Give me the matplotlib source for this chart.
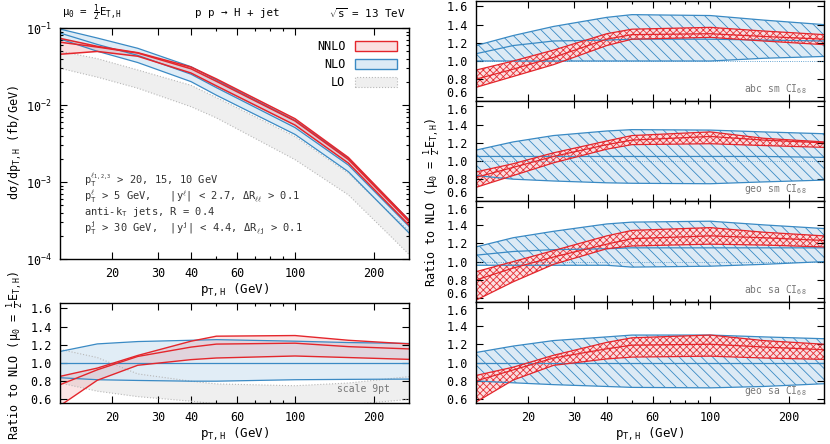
import matplotlib
matplotlib.use('Agg')
import matplotlib.pyplot as plt
from matplotlib.ticker import FixedLocator, NullFormatter, FuncFormatter, LogLocator
from matplotlib.patches import Patch

plt.rcParams['font.family'] = ['DejaVu Sans Mono', 'DejaVu Sans']
plt.rcParams['mathtext.fontset'] = 'custom'
plt.rcParams['mathtext.rm'] = 'DejaVu Sans Mono'
plt.rcParams['mathtext.it'] = 'DejaVu Sans Mono'
plt.rcParams['mathtext.bf'] = 'DejaVu Sans Mono:bold'
plt.rcParams['mathtext.sf'] = 'DejaVu Sans Mono'
plt.rcParams['hatch.linewidth'] = 0.6

# ---------------- data ----------------
pt = [12.6, 17.5, 25, 40, 50, 100, 160, 273]

# main panel: d sigma / d pT (fb/GeV)
nlo_c = [0.086, 0.0612, 0.0441, 0.0251, 0.0168, 5.09e-3, 1.66e-3, 2.65e-4]
nlo_hi = [0.0969, 0.0741, 0.0545, 0.0314, 0.0211, 6.31e-3, 2.03e-3, 3.22e-4]
nlo_lo = [0.0721, 0.0499, 0.0356, 0.0201, 0.0134, 4.15e-3, 1.36e-3, 2.18e-4]
nnlo_c = [0.0654, 0.0566, 0.0473, 0.0295, 0.0203, 6.2e-3, 1.96e-3, 3.06e-4]
nnlo_hi = [0.0734, 0.0578, 0.0478, 0.0311, 0.0218, 6.63e-3, 2.08e-3, 3.2e-4]
nnlo_lo = [0.0456, 0.0496, 0.043, 0.026, 0.0177, 5.48e-3, 1.76e-3, 2.76e-4]
lo_hi = [0.050, 0.040, 0.0285, 0.0180, 0.0125, 3.9e-3, 1.3e-3, 2.3e-4]
lo_lo = [0.030, 0.023, 0.0165, 0.0095, 0.0068, 1.95e-3, 6.8e-4, 1.15e-4]

# lower-left ratio panel (scale 9pt)
r_nlo_hi = [1.127, 1.21, 1.236, 1.25, 1.257, 1.24, 1.225, 1.215]
r_nlo_c = [1.0, 1.0, 1.0, 1.0, 1.0, 1.0, 1.0, 1.0]
r_nlo_lo = [0.838, 0.816, 0.808, 0.80, 0.80, 0.816, 0.82, 0.823]
r_nnlo_hi = [0.853, 0.944, 1.083, 1.24, 1.295, 1.302, 1.25, 1.21]
r_nnlo_c = [0.761, 0.925, 1.072, 1.175, 1.208, 1.218, 1.18, 1.155]
r_nnlo_lo = [0.53, 0.81, 0.975, 1.037, 1.055, 1.077, 1.06, 1.04]
r_lo_hi = [1.15, 1.06, 0.88, 0.80, 0.77, 0.75, 0.78, 0.85]
r_lo_lo = [0.78, 0.69, 0.63, 0.58, 0.55, 0.50, 0.54, 0.60]

# right-hand panels (CI68 variants)
ci_labels = ['abc sm', 'geo sm', 'abc sa', 'geo sa']
ci_nlo_hi = [
    [1.17, 1.28, 1.38, 1.48, 1.51, 1.50, 1.45, 1.40],
    [1.12, 1.21, 1.28, 1.33, 1.345, 1.34, 1.32, 1.30],
    [1.16, 1.26, 1.33, 1.41, 1.43, 1.44, 1.40, 1.36],
    [1.11, 1.18, 1.24, 1.28, 1.30, 1.30, 1.28, 1.26],
]
ci_nlo_c = [
    [1.08, 1.17, 1.22, 1.23, 1.24, 1.24, 1.23, 1.22],
    [1.05, 1.05, 1.05, 1.05, 1.05, 1.05, 1.05, 1.04],
    [1.07, 1.11, 1.13, 1.14, 1.15, 1.15, 1.15, 1.15],
    [1.0, 1.0, 1.0, 1.0, 1.0, 1.0, 1.0, 1.0],
]
ci_nlo_lo = [
    [1.00, 1.00, 1.00, 1.00, 1.00, 1.00, 1.03, 1.05],
    [0.84, 0.80, 0.78, 0.76, 0.755, 0.75, 0.77, 0.79],
    [0.96, 0.96, 0.96, 0.96, 0.94, 0.95, 0.97, 1.00],
    [0.80, 0.78, 0.76, 0.74, 0.73, 0.725, 0.74, 0.77],
]
ci_nnlo_hi = [
    [0.90, 1.00, 1.12, 1.30, 1.35, 1.37, 1.33, 1.29],
    [0.88, 0.97, 1.09, 1.22, 1.28, 1.32, 1.25, 1.21],
    [0.89, 1.00, 1.12, 1.28, 1.34, 1.37, 1.32, 1.28],
    [0.86, 0.95, 1.08, 1.22, 1.27, 1.30, 1.24, 1.20],
]
ci_nnlo_c = [
    [0.80, 0.91, 1.04, 1.24, 1.29, 1.30, 1.27, 1.24],
    [0.82, 0.93, 1.05, 1.18, 1.23, 1.27, 1.23, 1.20],
    [0.80, 0.93, 1.05, 1.19, 1.25, 1.28, 1.26, 1.23],
    [0.80, 0.92, 1.05, 1.15, 1.19, 1.20, 1.17, 1.14],
]
ci_nnlo_lo = [
    [0.71, 0.83, 0.96, 1.17, 1.24, 1.26, 1.22, 1.18],
    [0.71, 0.84, 0.98, 1.13, 1.18, 1.19, 1.17, 1.15],
    [0.58, 0.78, 0.97, 1.14, 1.17, 1.19, 1.18, 1.16],
    [0.57, 0.81, 0.97, 1.04, 1.06, 1.07, 1.05, 1.035],
]

xticks = [20, 30, 40, 60, 100, 200]
xminor = [50, 70, 80, 90]
rticks = [0.6, 0.8, 1.0, 1.2, 1.4, 1.6]

# ---------------- style ----------------
RED = '#e4262c'
PINK = '#fbdfe0'
BLUE = '#3a8ac4'
LBLUE = '#dceaf5'
GRAY = '#b8b8b8'
LGRAY = '#efefef'
XLIM = (12.6, 273)
RYLIM = (0.56, 1.66)
FS = 8.5

W, H = 830, 444
fig = plt.figure(figsize=(W / 100, H / 100), dpi=100)


def box(l, t, r, b):
    return [l / W, 1 - b / H, (r - l) / W, (b - t) / H]


def style_x(ax, labels=True):
    ax.set_xscale('log')
    ax.set_xlim(*XLIM)
    ax.xaxis.set_major_locator(FixedLocator(xticks))
    ax.xaxis.set_minor_locator(FixedLocator(xminor))
    ax.xaxis.set_minor_formatter(NullFormatter())
    if labels:
        ax.xaxis.set_major_formatter(FuncFormatter(lambda v, p: f'{v:g}'))
    else:
        ax.xaxis.set_major_formatter(NullFormatter())
    ax.tick_params(which='both', direction='in', top=True, right=True,
                   labelsize=FS, pad=6)
    ax.tick_params(which='major', length=5, width=0.8)
    ax.tick_params(which='minor', length=2.5, width=0.8)
    for s in ax.spines.values():
        s.set_linewidth(1.0)


def style_ratio_y(ax, hide=()):
    ax.set_ylim(*RYLIM)
    ax.yaxis.set_major_locator(FixedLocator(rticks))

    def fmt(v, p):
        s = f'{v:.1f}'
        return '' if s in hide else s
    ax.yaxis.set_major_formatter(FuncFormatter(fmt))


# ---------------- main panel ----------------
ax = fig.add_axes(box(60, 28, 409, 259))
ax.fill_between(pt, lo_lo, lo_hi, facecolor=LGRAY, edgecolor='none')
ax.plot(pt, lo_hi, color=GRAY, ls=':', lw=0.8)
ax.plot(pt, lo_lo, color=GRAY, ls=':', lw=0.8)
ax.fill_between(pt, nlo_lo, nlo_hi, facecolor=LBLUE, edgecolor='none', alpha=0.9)
for arr in (nlo_hi, nlo_c, nlo_lo):
    ax.plot(pt, arr, color=BLUE, lw=0.9)
ax.fill_between(pt, nnlo_lo, nnlo_hi, facecolor=RED, edgecolor='none', alpha=0.15)
for arr in (nnlo_hi, nnlo_c, nnlo_lo):
    ax.plot(pt, arr, color=RED, lw=1.1)
ax.set_yscale('log')
ax.set_ylim(1e-4, 1e-1)
style_x(ax)
ax.yaxis.set_minor_locator(LogLocator(base=10, subs=range(2, 10)))
ax.yaxis.set_minor_formatter(NullFormatter())
ax.set_xlabel(r'p$_{T,H}$ (GeV)', fontsize=9, labelpad=1)
fig.text(15 / W, 1 - 143 / H, r'd$\sigma$/dp$_{T,H}$ (fb/GeV)', rotation=90,
         fontsize=8.5, va='center', ha='center')

handles = [Patch(facecolor=PINK, edgecolor=RED, lw=1.0),
           Patch(facecolor=LBLUE, edgecolor=BLUE, lw=1.0),
           Patch(facecolor=LGRAY, edgecolor=GRAY, lw=0.8, ls=':')]
ax.legend(handles, ['NNLO', 'NLO', 'LO'], loc='upper right', markerfirst=False,
          frameon=False, fontsize=8.5, handlelength=3.6, handleheight=0.9,
          labelspacing=0.45, handletextpad=0.8, borderaxespad=0.6)

notes = [r'p$_T^{\ell_{1,2,3}}$ > 20, 15, 10 GeV',
         r'p$_T^{\ell}$ > 5 GeV,   |y$^{\ell}$| < 2.7, $\Delta$R$_{\ell\ell}$ > 0.1',
         r'anti-k$_T$ jets, R = 0.4',
         r'p$_T^{j}$ > 30 GeV,  |y$^{j}$| < 4.4, $\Delta$R$_{\ell j}$ > 0.1']
for i, t in enumerate(notes):
    fig.text(84 / W, 1 - (180 + 16 * i) / H, t, fontsize=7.5, color='#333333',
             va='center', ha='left')

fig.text(62 / W, 1 - 13 / H, r'$\mu_0$ = $\frac{1}{2}$E$_{T,H}$', fontsize=7.8,
         va='center', ha='left')
fig.text(237 / W, 1 - 13 / H, 'p p → H + jet', fontsize=7.8, va='center', ha='center')
fig.text(406 / W, 1 - 13 / H, r'$\sqrt{s}$ = 13 TeV', fontsize=7.8, va='center',
         ha='right')

# ---------------- lower-left ratio ----------------
ax2 = fig.add_axes(box(60, 303, 409, 403))
ax2.fill_between(pt, r_lo_lo, r_lo_hi, facecolor=LGRAY, edgecolor='none')
ax2.plot(pt, r_lo_hi, color=GRAY, ls=':', lw=0.8)
ax2.plot(pt, r_lo_lo, color=GRAY, ls=':', lw=0.8)
ax2.fill_between(pt, r_nlo_lo, r_nlo_hi, facecolor=LBLUE, edgecolor='none', alpha=0.85)
for arr in (r_nlo_hi, r_nlo_c, r_nlo_lo):
    ax2.plot(pt, arr, color=BLUE, lw=0.9)
ax2.fill_between(pt, r_nnlo_lo, r_nnlo_hi, facecolor=RED, edgecolor='none', alpha=0.12)
for arr in (r_nnlo_hi, r_nnlo_c, r_nnlo_lo):
    ax2.plot(pt, arr, color=RED, lw=1.0)
style_x(ax2)
style_ratio_y(ax2)
ax2.set_xlabel(r'p$_{T,H}$ (GeV)', fontsize=9, labelpad=1)
ax2.text(0.945, 0.14, 'scale 9pt', transform=ax2.transAxes, fontsize=7,
         color='#777777', ha='right', va='center')
fig.text(15 / W, 1 - 355 / H, r'Ratio to NLO ($\mu_0$ = $\frac{1}{2}$E$_{T,H}$)',
         rotation=90, fontsize=8.5, va='center', ha='center')

# ---------------- right panels ----------------
tops = [1, 101, 201, 302]
bots = [101, 201, 302, 403]
for k in range(4):
    a = fig.add_axes(box(476, tops[k], 824, bots[k]))
    a.fill_between(pt, ci_nlo_lo[k], ci_nlo_hi[k], facecolor=LBLUE,
                   edgecolor=BLUE, hatch='\\\\\\', linewidth=0)
    a.plot(pt, ci_nlo_hi[k], color=BLUE, lw=0.9)
    a.plot(pt, ci_nlo_lo[k], color=BLUE, lw=0.9)
    a.plot(pt, ci_nlo_c[k], color=BLUE, lw=0.9)
    a.axhline(1.0, color=BLUE, lw=0.6, ls=':')
    a.fill_between(pt, ci_nnlo_lo[k], ci_nnlo_hi[k], facecolor=PINK,
                   edgecolor=RED, hatch='xxxxx', linewidth=0, alpha=0.95)
    a.plot(pt, ci_nnlo_hi[k], color=RED, lw=0.9)
    a.plot(pt, ci_nnlo_lo[k], color=RED, lw=0.9)
    a.plot(pt, ci_nnlo_c[k], color=RED, lw=0.9)
    style_x(a, labels=(k == 3))
    # 0.6 / 1.6 labels of stacked panels are nudged apart so they do not collide
    hide = []
    if k < 3:
        hide.append('0.6')
    if k > 0:
        hide.append('1.6')
    style_ratio_y(a, hide)
    if k < 3:
        a.annotate('0.6', xy=(0, 0.6), xycoords=('axes fraction', 'data'),
                   xytext=(-6, 2.6), textcoords='offset points', fontsize=FS,
                   ha='right', va='center')
    if k > 0:
        a.annotate('1.6', xy=(0, 1.6), xycoords=('axes fraction', 'data'),
                   xytext=(-6, -2.6), textcoords='offset points', fontsize=FS,
                   ha='right', va='center')
    a.text(0.951, 0.12, ci_labels[k] + r' CI$_{68}$', transform=a.transAxes,
           fontsize=7, color='#777777', ha='right', va='center')
    if k == 3:
        a.set_xlabel(r'p$_{T,H}$ (GeV)', fontsize=9, labelpad=1)

fig.text(432 / W, 1 - 202 / H, r'Ratio to NLO ($\mu_0$ = $\frac{1}{2}$E$_{T,H}$)',
         rotation=90, fontsize=8.5, va='center', ha='center')

fig.savefig('out.png', dpi=100)
